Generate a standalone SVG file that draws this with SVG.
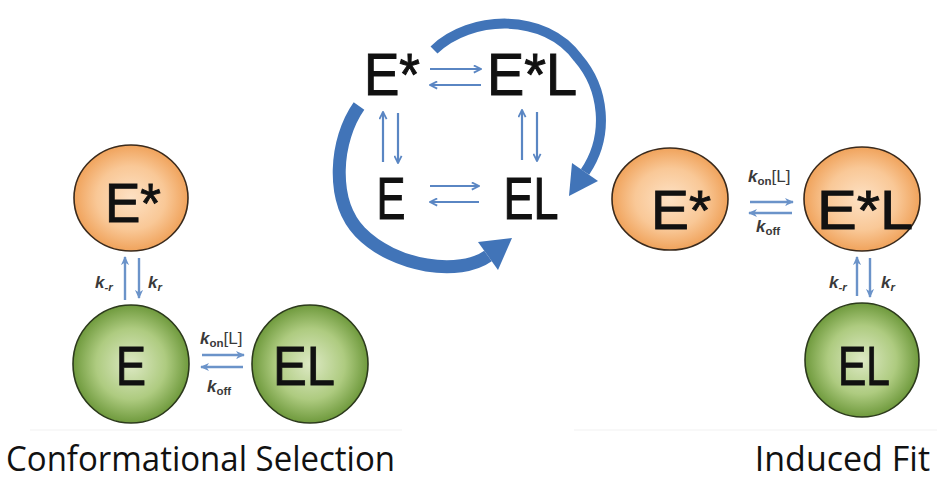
<svg xmlns="http://www.w3.org/2000/svg" width="937" height="484" viewBox="0 0 937 484">
  <defs>
    <radialGradient id="gOrange" cx="50%" cy="50%" r="50%">
      <stop offset="0" stop-color="#fde1c4"/>
      <stop offset="0.6" stop-color="#f9c897"/>
      <stop offset="1" stop-color="#f0a35c"/>
    </radialGradient>
    <radialGradient id="gGreen" cx="50%" cy="50%" r="50%">
      <stop offset="0" stop-color="#dde9c4"/>
      <stop offset="0.6" stop-color="#aecb80"/>
      <stop offset="1" stop-color="#6f9a3d"/>
    </radialGradient>
    <!-- open barb head for the central scheme -->
    <marker id="barb" viewBox="0 0 10 10" refX="9" refY="5" markerWidth="9" markerHeight="9" markerUnits="userSpaceOnUse" orient="auto">
      <path d="M1,1 L9,5 L1,9" fill="none" stroke="#5a86c3" stroke-width="2"/>
    </marker>
    <!-- filled head for the rate arrows between circles -->
    <marker id="tri" viewBox="0 0 10 10" refX="9" refY="5" markerWidth="9" markerHeight="9" markerUnits="userSpaceOnUse" orient="auto">
      <path d="M0,0.5 L10,5 L0,9.5 L3,5 Z" fill="#6b93c9"/>
    </marker>
  </defs>
  <style>
    .orange { fill: url(#gOrange); stroke: #3a2a1c; stroke-width: 1.6; }
    .green { fill: url(#gGreen); stroke: #2c3a1c; stroke-width: 1.6; }
    .big { font-family: "Liberation Sans", Arial, sans-serif; font-size: 56px; fill: #111; stroke: #111; stroke-width: 0.9; text-anchor: middle; }
    .mid { font-family: "Liberation Sans", Arial, sans-serif; font-size: 60px; fill: #111; stroke: #111; stroke-width: 1; text-anchor: middle; }
    .k { font-family: "Liberation Sans", Arial, sans-serif; font-size: 17px; font-weight: bold; fill: #3a3a3a; }
    .ki { font-style: italic; }
    .sub { font-size: 11.5px; }
    .cap { font-family: "Open Sans", "Noto Sans", sans-serif; font-size: 34px; fill: #111; }
    .thin { stroke: #5a86c3; stroke-width: 2.2; fill: none; marker-end: url(#barb); }
    .rate { stroke: #6b93c9; stroke-width: 2.4; fill: none; marker-end: url(#tri); }
    .sweep { stroke: #4174b8; fill: none; stroke-linecap: butt; }
    .head { fill: #4174b8; }
    .edge { stroke: #f1f1f1; stroke-width: 1; }
  </style>

  <rect width="937" height="484" fill="#ffffff"/>

  <!-- faint bottom edges under the two panels -->
  <line class="edge" x1="30" y1="430" x2="402" y2="430"/>
  <line class="edge" x1="574" y1="430" x2="937" y2="430"/>

  <!-- Conformational selection panel -->
  <g id="cs-Estar">
    <ellipse class="orange" cx="131" cy="198" rx="57" ry="53"/>
    <text class="big" x="133" y="222" textLength="56" lengthAdjust="spacingAndGlyphs">E*</text>
  </g>
  <g id="cs-E">
    <ellipse class="green" cx="131" cy="364" rx="58" ry="59"/>
    <text class="big" x="131" y="385" textLength="30" lengthAdjust="spacingAndGlyphs">E</text>
  </g>
  <g id="cs-EL">
    <ellipse class="green" cx="310" cy="364" rx="58" ry="59"/>
    <text class="big" x="304" y="385" textLength="62" lengthAdjust="spacingAndGlyphs">EL</text>
  </g>

  <!-- Induced fit panel -->
  <g id="if-Estar">
    <ellipse class="orange" cx="670" cy="199" rx="58" ry="51"/>
    <text class="big" x="681" y="229" textLength="60" lengthAdjust="spacingAndGlyphs">E*</text>
  </g>
  <g id="if-EstarL">
    <ellipse class="orange" cx="862" cy="199" rx="58" ry="52"/>
    <text class="big" x="865" y="229" textLength="96" lengthAdjust="spacingAndGlyphs">E*L</text>
  </g>
  <g id="if-EL">
    <ellipse class="green" cx="862" cy="360" rx="57" ry="57"/>
    <text class="big" x="864" y="385" textLength="52" lengthAdjust="spacingAndGlyphs">EL</text>
  </g>

  <!-- Central four-state scheme -->
  <g id="c-Estar"><text class="mid" x="392" y="95" textLength="56" lengthAdjust="spacingAndGlyphs">E*</text></g>
  <g id="c-EstarL"><text class="mid" x="532" y="95" textLength="90" lengthAdjust="spacingAndGlyphs">E*L</text></g>
  <g id="c-E"><text class="mid" x="391" y="219" textLength="29" lengthAdjust="spacingAndGlyphs">E</text></g>
  <g id="c-EL"><text class="mid" x="531" y="219" textLength="55" lengthAdjust="spacingAndGlyphs">EL</text></g>

  <g id="connectors">
    <!-- central equilibria -->
    <line class="thin" x1="430" y1="69" x2="481" y2="69"/>
    <line class="thin" x1="481" y1="85" x2="430" y2="85"/>
    <line class="thin" x1="430" y1="186" x2="479" y2="186"/>
    <line class="thin" x1="479" y1="202" x2="430" y2="202"/>
    <line class="thin" x1="383" y1="162" x2="383" y2="112"/>
    <line class="thin" x1="398" y1="113" x2="398" y2="163"/>
    <line class="thin" x1="522" y1="160" x2="522" y2="110"/>
    <line class="thin" x1="537" y1="112" x2="537" y2="161"/>

    <!-- sweeping pathway arrows -->
    <path class="sweep" stroke-width="10" d="M434,50 C470,15 545,12 578,58 C604,88 610,135 585,172"/>
    <polygon class="head" points="569,196 598,181 572,163"/>
    <path class="sweep" stroke-width="13" d="M359,106 C335,140 330,200 360,232 C395,268 460,276 488,256"/>
    <polygon class="head" points="512,238 498,270 478,242"/>

    <!-- conformational selection rates -->
    <line class="rate" x1="125" y1="300" x2="125" y2="257"/>
    <line class="rate" x1="139" y1="258" x2="139" y2="298"/>
    <line class="rate" x1="202" y1="355" x2="244" y2="355"/>
    <line class="rate" x1="243" y1="367" x2="201" y2="367"/>

    <!-- induced fit rates -->
    <line class="rate" x1="750" y1="202" x2="793" y2="202"/>
    <line class="rate" x1="792" y1="213" x2="749" y2="213"/>
    <line class="rate" x1="857" y1="296" x2="857" y2="257"/>
    <line class="rate" x1="870" y1="258" x2="870" y2="297"/>
  </g>

  <!-- rate constant labels -->
  <g id="labels">
    <text class="k" x="95" y="288"><tspan class="ki">k</tspan><tspan class="sub ki" dy="3">-r</tspan></text>
    <text class="k" x="148" y="288"><tspan class="ki">k</tspan><tspan class="sub ki" dy="3">r</tspan></text>
    <text class="k" x="200" y="344"><tspan class="ki">k</tspan><tspan class="sub" dy="3">on</tspan><tspan dy="-3" font-weight="normal">[L]</tspan></text>
    <text class="k" x="207" y="392"><tspan class="ki">k</tspan><tspan class="sub" dy="3">off</tspan></text>

    <text class="k" x="748" y="182"><tspan class="ki">k</tspan><tspan class="sub" dy="3">on</tspan><tspan dy="-3" font-weight="normal">[L]</tspan></text>
    <text class="k" x="756" y="232"><tspan class="ki">k</tspan><tspan class="sub" dy="3">off</tspan></text>
    <text class="k" x="829" y="288"><tspan class="ki">k</tspan><tspan class="sub ki" dy="3">-r</tspan></text>
    <text class="k" x="881" y="288"><tspan class="ki">k</tspan><tspan class="sub ki" dy="3">r</tspan></text>
  </g>

  <!-- panel captions -->
  <text class="cap" x="6" y="471" textLength="389" lengthAdjust="spacingAndGlyphs">Conformational Selection</text>
  <text class="cap" x="930" y="471" text-anchor="end" font-size="32">Induced Fit</text>
</svg>
